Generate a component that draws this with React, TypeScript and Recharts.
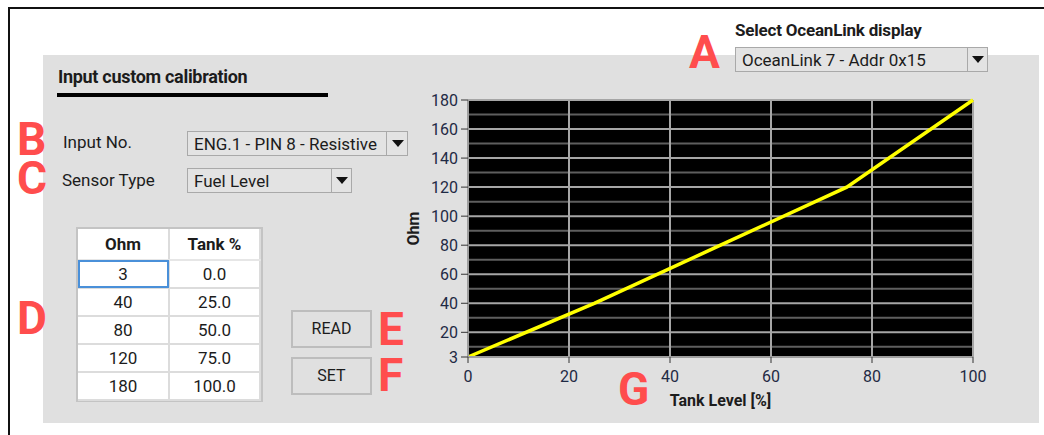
import { LineChart, Line, XAxis, YAxis, CartesianGrid, ReferenceLine } from "recharts";

// calibration table (Ohm vs Tank %)
const ohmValues = [3, 40, 80, 120, 180];
const tankPercent = [0, 25, 50, 75, 100];

const xTicks = [0, 20, 40, 60, 80, 100];
const yTicks = [3, 20, 40, 60, 80, 100, 120, 140, 160, 180];
const yMajorLines = [20, 40, 60, 80, 100, 120, 140, 160, 180];
const yMinorLines = [10, 30, 50, 70, 90, 110, 130, 150, 170];
const xGridLines = [0, 20, 40, 60, 80, 100];

const displayOption = "OceanLink 7 - Addr 0x15";
const inputOption = "ENG.1 - PIN 8 - Resistive";
const sensorOption = "Fuel Level";

const chartData = tankPercent.map((t, i) => ({ tank: t, ohm: ohmValues[i] }));

const RED = "#ff4d4d";
const TXT = "#1c1c1c";
const TICK = "#1f2a44";

const Letter = ({ ch, x, y }: { ch: string; x: number; y: number }) => (
  <div
    style={{
      position: "absolute",
      left: x,
      top: y,
      color: RED,
      fontSize: 46,
      fontWeight: 700,
      lineHeight: "34px",
    }}
  >
    {ch}
  </div>
);

const Dropdown = ({
  text,
  x,
  y,
  w,
  divider,
}: {
  text: string;
  x: number;
  y: number;
  w: number;
  divider: number;
}) => (
  <div
    style={{
      position: "absolute",
      left: x,
      top: y,
      width: w,
      height: 25,
      boxSizing: "border-box",
      border: "1px solid #a9a9a9",
      background: "#e3e3e3",
      fontSize: 17,
      color: TXT,
    }}
  >
    <div style={{ position: "absolute", left: 6, top: 1, lineHeight: "22px", whiteSpace: "nowrap" }}>{text}</div>
    <div
      style={{
        position: "absolute",
        left: divider,
        top: 0,
        bottom: 0,
        borderLeft: "1px solid #a9a9a9",
        width: w - divider - 2,
      }}
    >
      <div
        style={{
          position: "absolute",
          left: "50%",
          top: 8,
          marginLeft: -6,
          width: 0,
          height: 0,
          borderLeft: "6px solid transparent",
          borderRight: "6px solid transparent",
          borderTop: "7px solid #111",
        }}
      />
    </div>
  </div>
);

const Button = ({ label, x, y }: { label: string; x: number; y: number }) => (
  <div
    style={{
      position: "absolute",
      left: x,
      top: y,
      width: 81,
      height: 38,
      boxSizing: "border-box",
      border: "2px solid #bdbdbd",
      fontSize: 16,
      color: TXT,
      textAlign: "center",
      lineHeight: "34px",
    }}
  >
    {label}
  </div>
);

const cell: React.CSSProperties = {
  borderRight: "2px solid #dcdcdc",
  borderBottom: "2px solid #dcdcdc",
  textAlign: "center",
  padding: 0,
  height: 26,
  fontSize: 17,
  color: TXT,
};

export default function App() {
  return (
    <div
      style={{
        position: "absolute",
        left: 0,
        top: 0,
        width: 1044,
        height: 435,
        background: "#fff",
        overflow: "hidden",
        fontFamily: "Roboto, 'Noto Sans', sans-serif",
      }}
    >
      {/* outer frame */}
      <div style={{ position: "absolute", left: 8, top: 7, width: 1040, height: 440, borderLeft: "2px solid #111", borderTop: "2px solid #111" }} />

      {/* grey panel */}
      <div style={{ position: "absolute", left: 43, top: 55, width: 996, height: 368, background: "#e0e0e0" }} />

      {/* display selector */}
      <div style={{ position: "absolute", left: 735, top: 20, fontSize: 17, fontWeight: 700, letterSpacing: -0.2, color: TXT, whiteSpace: "nowrap" }}>
        Select OceanLink display
      </div>
      <Dropdown text={displayOption} x={735} y={47} w={253} divider={231} />

      {/* section title */}
      <div
        style={{
          position: "absolute",
          left: 58,
          top: 66,
          fontSize: 18,
          fontWeight: 700,
          letterSpacing: -0.3,
          color: TXT,
          whiteSpace: "nowrap",
        }}
      >
        Input custom calibration
      </div>
      <div style={{ position: "absolute", left: 57, top: 93, width: 271, height: 4, background: "#000" }} />

      {/* input rows */}
      <div style={{ position: "absolute", left: 63, top: 132, fontSize: 17, color: TXT }}>Input No.</div>
      <Dropdown text={inputOption} x={187} y={131} w={221} divider={198} />
      <div style={{ position: "absolute", left: 62, top: 170, fontSize: 17, color: TXT }}>Sensor Type</div>
      <Dropdown text={sensorOption} x={187} y={168} w={165} divider={143} />

      {/* calibration table */}
      <div
        style={{
          position: "absolute",
          left: 76,
          top: 227,
          width: 187,
          height: 175,
          boxSizing: "border-box",
          border: "2px solid #c4c4c4",
          background: "#fff",
        }}
      >
        <table style={{ borderCollapse: "collapse", width: 183 }}>
          <thead>
            <tr>
              <th style={{ ...cell, height: 30, fontWeight: 700, borderBottom: "2px solid #e6e6e6", width: 90 }}>Ohm</th>
              <th style={{ ...cell, height: 30, fontWeight: 700, borderBottom: "2px solid #e6e6e6" }}>Tank %</th>
            </tr>
          </thead>
          <tbody>
            {ohmValues.map((o, i) => (
              <tr key={i}>
                <td style={i === 0 ? { ...cell, outline: "2px solid #4a90d9", outlineOffset: -2 } : cell}>{o}</td>
                <td style={cell}>{tankPercent[i].toFixed(1)}</td>
              </tr>
            ))}
          </tbody>
        </table>
      </div>

      <Button label="READ" x={291} y={310} />
      <Button label="SET" x={291} y={357} />

      <Letter ch="A" x={689} y={35} />
      <Letter ch="B" x={17} y={122} />
      <Letter ch="C" x={17} y={161} />
      <Letter ch="D" x={17} y={301} />
      <Letter ch="E" x={378} y={312} />
      <Letter ch="F" x={378} y={358} />
      <Letter ch="G" x={618} y={372} />

      {/* chart */}
      <div style={{ position: "absolute", left: 400, top: 80 }}>
        <LineChart width={600} height={345} data={chartData} margin={{ top: 20, right: 27, left: 0, bottom: 0 }}>
          <CartesianGrid fill="#000" fillOpacity={1} horizontal={false} vertical={false} />
          <XAxis
            dataKey="tank"
            type="number"
            domain={[0, 100]}
            ticks={xTicks}
            height={68}
            axisLine={{ stroke: "#9e9e9e", strokeWidth: 2 }}
            tickLine={{ stroke: "#333" }}
            tickSize={6}
            tickMargin={8}
            tick={{ fill: TICK, fontSize: 16 }}
            label={{
              content: ({ viewBox }: any) => (
                <text
                  x={viewBox.x + viewBox.width / 2}
                  y={viewBox.y + 49}
                  textAnchor="middle"
                  fontSize={16}
                  fontWeight={700}
                  fill={TXT}
                >
                  Tank Level [%]
                </text>
              ),
            }}
          />
          <YAxis
            type="number"
            domain={[3, 180]}
            ticks={yTicks}
            width={68}
            interval={0}
            axisLine={{ stroke: "#9e9e9e", strokeWidth: 2 }}
            tickLine={{ stroke: "#333" }}
            tickSize={7}
            tickMargin={3}
            tick={{ fill: TICK, fontSize: 16 }}
            label={{
              content: ({ viewBox }: any) => (
                <text
                  x={viewBox.x + 19}
                  y={viewBox.y + viewBox.height / 2}
                  transform={`rotate(-90 ${viewBox.x + 19} ${viewBox.y + viewBox.height / 2})`}
                  textAnchor="middle"
                  fontSize={16}
                  fontWeight={700}
                  fill={TXT}
                >
                  Ohm
                </text>
              ),
            }}
          />
          {yMinorLines.map((v) => (
            <ReferenceLine key={"mi" + v} y={v} stroke="#5e5e5e" strokeWidth={2} />
          ))}
          {yMajorLines.map((v) => (
            <ReferenceLine key={"ma" + v} y={v} stroke="#a6a6a6" strokeWidth={2} />
          ))}
          {xGridLines.map((v) => (
            <ReferenceLine key={"vx" + v} x={v} stroke="#a6a6a6" strokeWidth={2} />
          ))}
          <Line
            type="linear"
            dataKey="ohm"
            stroke="#ffff00"
            strokeWidth={3.5}
            dot={false}
            isAnimationActive={false}
          />
        </LineChart>
      </div>
    </div>
  );
}
